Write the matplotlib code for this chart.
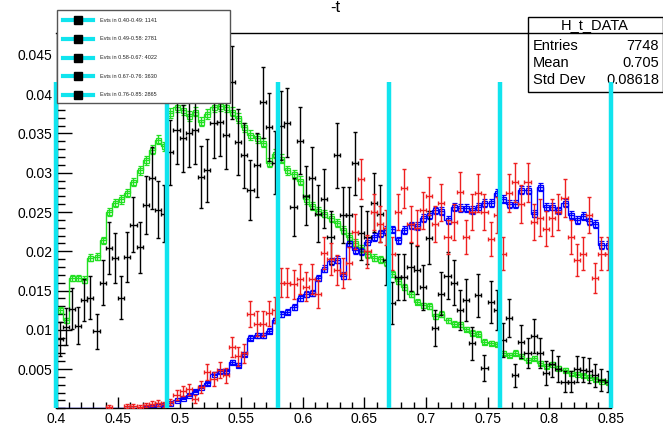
import numpy as np
import matplotlib
matplotlib.use("Agg")
import matplotlib.pyplot as plt
from matplotlib.patches import Rectangle
from matplotlib.lines import Line2D
from matplotlib.ticker import MultipleLocator, FuncFormatter

plt.rcParams['font.family'] = ['Liberation Sans', 'DejaVu Sans']

nan = np.nan

# binning of the -t histograms
t_min, t_max, n_bins = 0.40, 0.85, 90

# -t slices (cyan lines) and event counts shown in the legend
slice_edges = [0.40, 0.49, 0.58, 0.67, 0.76, 0.85]
slice_counts = [1141, 2781, 4022, 3630, 2865]
slice_line_top = 0.0415

# stats box
stats_name = "H_t_DATA"
stats_rows = [("Entries", "7748"), ("Mean", "0.705"), ("Std Dev", "0.08618")]

# normalised bin contents (nan = empty bin)
green = [.0125, .0112, .0166, .0166, .0164, .0192, .0193, .0214, .0250, .0262,
         .0266, .0274, .0288, .0303, .0316, .0329, .0342, .0334, .0376, .0384,
         .0380, .0372, .0378, .0365, .0375, .0384, .0385, .0384, .0378, .0370,
         .0358, .0348, .0344, .0338, .0313, .0324, .0318, .0303, .0298, .0290,
         .0266, .0258, .0251, .0248, .0242, .0236, .0227, .0218, .0211, .0203,
         .0196, .0192, .0190, .0186, .0171, .0162, .0155, .0146, .0136, .0131,
         .0130, .0117, .0120, .0112, .0108, .0107, .0101, .0096, .0095, .0085,
         .0083, .0082, .0070, .0068, .0071, .0066, .0062, .0064, .0058, .0054,
         .0057, .0051, .0049, .0045, .0044, .0042, .0040, .0037, .0035, .0033]

black = [.0088, .0104, .0127, .0105, .0138, .0141, .0098, .0160, .0204, .0192,
         .0141, .0193, .0234, .0205, .0259, .0293, .0253, .0248, .0326, .0354,
         .0344, .0350, .0354, .0295, .0303, .0363, .0365, .0348, .0415, .0339,
         .0322, .0278, .0310, .0390, .0358, .0313, .0360, .0364, .0256, .0341,
         .0271, .0293, .0248, .0267, .0218, .0322, .0246, .0246, .0312, .0223,
         .0218, .0262, .0248, .0189, .0134, .0167, .0167, .0180, .0176, .0154,
         .0217, .0102, .0146, .0169, .0160, .0125, .0138, .0083, .0144, .0051,
         .0135, .0125, .0087, .0115, .0042, .0085, .0070, .0092, .0070, .0045,
         .0057, .0050, .0034, .0034, .0050, .0049, .0048, .0042, .0036, .0034]

blue = [0, 0, 0, 0, 0, 0, 0, 0, 0, 0,
        0, 0, 0, 0, .0002, .0002, .0003, .0004, .0007, .0010,
        .0013, .0017, .0022, .0027, .0032, .0044, .0047, .0047, .0059, .0055,
        .0069, .0090, .0093, .0093, .0099, .0112, .0120, .0123, .0129, .0141,
        .0146, .0147, .0166, .0178, .0187, .0189, .0169, .0210, .0201, .0200,
        .0212, .0218, .0223, .0227, .0228, .0214, .0227, .0233, .0232, .0242,
        .0246, .0252, .0251, .0240, .0256, .0255, .0255, .0253, .0257, .0262,
        .0262, .0274, .0267, .0260, .0260, .0278, .0278, .0248, .0282, .0256,
        .0257, .0252, .0262, .0246, .0240, .0245, .0238, .0235, .0208, .0208]

red = [nan, nan, nan, nan, nan, nan, nan, nan, .0002, nan,
       nan, .0003, .0003, .0002, .0004, .0006, .0007, .0005, .0008, .0017,
       .0022, .0024, .0012, .0027, .0046, .0037, .0049, .0042, .0078, .0066,
       .0070, .0120, .0108, .0108, .0121, .0125, .0160, .0160, .0158, .0165,
       .0155, .0165, .0146, .0198, .0190, .0176, .0172, .0185, .0225, .0292,
       .0200, .0250, .0235, .0230, .0197, .0250, .0280, .0235, .0230, .0252,
       .0270, .0235, .0262, .0218, .0237, .0276, .0218, .0250, .0274, .0250,
       .0216, .0246, .0197, .0274, .0288, .0260, .0288, .0237, .0243, .0229,
       .0243, .0250, .0268, .0218, .0189, .0197, .0246, .0166, .0197, .0197]

# effective entries of each histogram, for the poisson error bars
n_green, n_black, n_blue, n_red = 100000, 1900, 100000, 4600

GREEN = '#22e022'
BLUE = '#0000ff'
RED = '#ee2020'
CYAN = '#10e4ee'

W, H = 663, 430


def fx(px):
    return px / W


def fy(py):
    return 1 - py / H


edges = np.linspace(t_min, t_max, n_bins + 1)
centers = 0.5 * (edges[:-1] + edges[1:])
half_w = 0.5 * (edges[1] - edges[0])

fig = plt.figure(figsize=(W / 100, H / 100), dpi=100)
ax = fig.add_axes([fx(56.5), fy(408.3), fx(610.7) - fx(56.5), fy(33) - fy(408.3)])

# MC histograms: step line + open boxes with error bars
for vals, n_eff, col in [(green, n_green, GREEN), (blue, n_blue, BLUE)]:
    v = np.array(vals, dtype=float)
    ax.stairs(v, edges, color=col, lw=1, zorder=2)
    vm = np.where(v > 0, v, nan)
    ax.errorbar(centers, vm, yerr=np.sqrt(np.nan_to_num(vm) / n_eff), fmt='s', ms=3.6,
                mfc='none', mec=col, mew=0.9, ecolor=col, elinewidth=1,
                capsize=1.8, capthick=1, zorder=2.2)

# data points: crosses with bin-width x errors
for vals, n_eff, col in [(black, n_black, 'black'), (red, n_red, RED)]:
    v = np.array(vals, dtype=float)
    ax.errorbar(centers, v, xerr=half_w, yerr=np.sqrt(np.nan_to_num(v) / n_eff),
                fmt='none', ecolor=col, elinewidth=1, capsize=1.5, capthick=1,
                zorder=3)

# stats box (under the cyan lines)
ax.add_patch(Rectangle((fx(528), fy(92)), fx(662.5) - fx(528), fy(17.5) - fy(92),
                       transform=fig.transFigure, facecolor='white', edgecolor='black',
                       lw=1, clip_on=False, zorder=4))
ax.add_line(Line2D([fx(528), fx(662.5)], [fy(33), fy(33)], transform=fig.transFigure,
                   color='black', lw=1, clip_on=False, zorder=4))
ax.text(fx(595), fy(25), stats_name, transform=fig.transFigure, ha='center',
        va='center', fontsize=10.5, clip_on=False, zorder=4.1)
for k, (name, val) in enumerate(stats_rows):
    yk = fy(45.5 + 17.5 * k)
    ax.text(fx(533), yk, name, transform=fig.transFigure, ha='left', va='center',
            fontsize=10.5, clip_on=False, zorder=4.1)
    ax.text(fx(659), yk, val, transform=fig.transFigure, ha='right', va='center',
            fontsize=10.5, clip_on=False, zorder=4.1)

# slice boundaries
ax.vlines(slice_edges, 0, slice_line_top, colors=CYAN, lw=3.2, zorder=5, clip_on=False)

# legend
ax.add_patch(Rectangle((fx(57), fy(103)), fx(230) - fx(57), fy(10) - fy(103),
                       transform=fig.transFigure, facecolor='white', edgecolor='#555555',
                       lw=1, clip_on=False, zorder=10))
for k, n in enumerate(slice_counts):
    yk = fy(20 + 18.75 * k)
    label = f"Evts in {slice_edges[k]:.2f}-{slice_edges[k + 1]:.2f}: {n}"
    ax.add_line(Line2D([fx(63), fx(93)], [yk, yk], transform=fig.transFigure,
                       color=CYAN, lw=3, clip_on=False, zorder=11))
    ax.add_line(Line2D([fx(78)], [yk], transform=fig.transFigure, marker='s', ms=5.5,
                       color='black', ls='none', clip_on=False, zorder=12))
    ax.text(fx(100), yk, label, transform=fig.transFigure, fontsize=4, va='center',
            color='#222222', clip_on=False, zorder=12)

# axes in ROOT style
ax.set_xlim(t_min, t_max)
ax.set_ylim(0, 0.0478)
ax.set_xticks(np.arange(0.40, 0.851, 0.05))
ax.set_yticks(np.arange(0.005, 0.0451, 0.005))
ax.xaxis.set_minor_locator(MultipleLocator(0.01))
ax.yaxis.set_minor_locator(MultipleLocator(0.001))
fmt = FuncFormatter(lambda v, p: f"{v:.3f}".rstrip('0').rstrip('.'))
ax.xaxis.set_major_formatter(fmt)
ax.yaxis.set_major_formatter(fmt)
ax.tick_params(which='both', direction='in', labelsize=10, width=1)
ax.tick_params(axis='y', which='major', length=11, pad=3)
ax.tick_params(axis='y', which='minor', length=5.5)
ax.tick_params(axis='x', which='major', length=8, pad=2.5)
ax.tick_params(axis='x', which='minor', length=4)
ax.spines['right'].set_visible(False)
for s in ['left', 'bottom', 'top']:
    ax.spines[s].set_linewidth(1)

# title, kept fully inside the canvas
fig.text(0.505, fy(12), "-t", ha='center', va='baseline', fontsize=12)

fig.savefig("out.png", dpi=100)
